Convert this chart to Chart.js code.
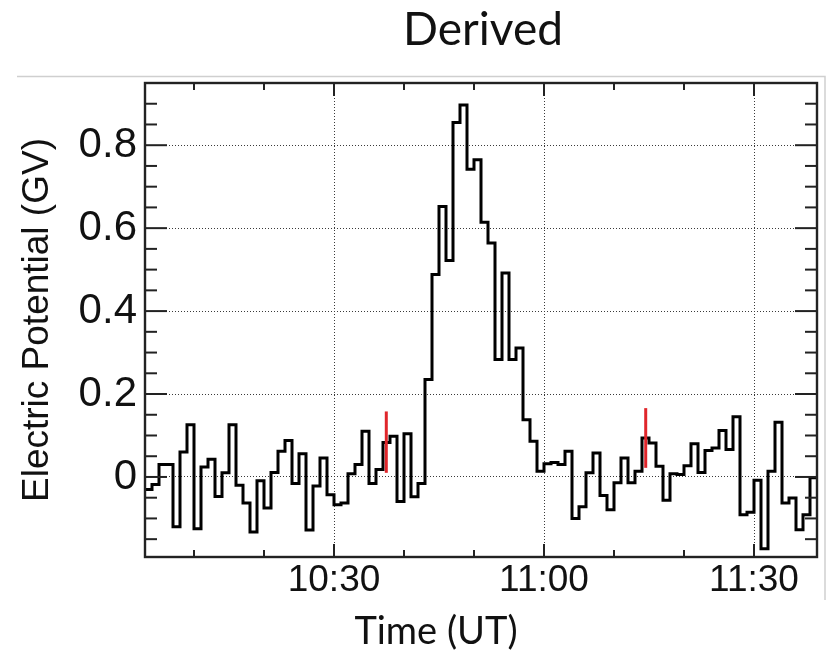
<!DOCTYPE html>
<html>
<head>
<meta charset="utf-8">
<script src="https://cdn.jsdelivr.net/npm/chart.js@4.4.1/dist/chart.umd.min.js"></script>
<style>
html, body { margin: 0; padding: 0; background: #ffffff; }
canvas { display: block; }
</style>
</head>
<body>
<canvas id="chart" width="826" height="651"></canvas>
<script>
// ---------- data ----------
const titleText = 'Derived';
const xTitleText = 'Time (UT)';
const yTitleText = 'Electric Potential (GV)';

// time in minutes after 10:00 UT; one-minute bins starting at 10:03
const binStart = 3;
const binWidth = 1;
const potential = [
  -0.030, -0.018, 0.030, 0.030, -0.120, 0.060, 0.126, -0.125, 0.024, 0.043,
  -0.047, 0.010, 0.126, -0.020, -0.063, -0.133, -0.009, -0.075, 0.011, 0.062,
  0.088, -0.016, 0.056, -0.128, -0.022, 0.046, -0.043, -0.067, -0.063, 0.008,
  0.030, 0.110, -0.016, 0.018, 0.083, 0.098, -0.059, 0.104, -0.048, -0.016,
  0.235, 0.488, 0.652, 0.522, 0.855, 0.897, 0.742, 0.765, 0.614, 0.564,
  0.283, 0.492, 0.283, 0.311, 0.138, 0.086, 0.014, 0.032, 0.035, 0.030,
  0.062, -0.100, -0.072, 0.010, 0.058, -0.045, -0.079, -0.014, 0.046, -0.014,
  0.014, 0.094, 0.082, 0.026, -0.056, 0.008, 0.006, 0.027, 0.080, 0.011,
  0.064, 0.070, 0.112, 0.066, 0.145, -0.091, -0.085, -0.008, -0.173, 0.014,
  0.132, -0.063, -0.051, -0.127, -0.091, -0.002
];

const xTickValues = [30, 60, 90];
const xTickLabels = ['10:30', '11:00', '11:30'];
const xMinorValues = [10, 20, 40, 50, 70, 80];
const yTickValues = [0, 0.2, 0.4, 0.6, 0.8];
const yTickLabels = ['0', '0.2', '0.4', '0.6', '0.8'];
const yMinorValues = [-0.15, -0.1, -0.05, 0.05, 0.1, 0.15, 0.25, 0.3, 0.35,
  0.45, 0.5, 0.55, 0.65, 0.7, 0.75, 0.85, 0.9];

// red marker lines
const markerTimes = [37.47, 74.53];
const markerLow = [0.010, 0.022];
const markerHigh = [0.158, 0.166];

const xMin = 3, xMax = 99;
const yMin = -0.193, yMax = 0.95;

// ---------- build datasets ----------
const histPoints = potential.map((v, i) => ({ x: binStart + i * binWidth, y: v }));
histPoints.push({ x: binStart + potential.length * binWidth, y: potential[potential.length - 1] });

const datasets = [{
  data: histPoints,
  borderColor: '#000000',
  borderWidth: 3,
  stepped: 'before',
  pointRadius: 0,
  fill: false,
  order: 1
}];
markerTimes.forEach((t, i) => {
  datasets.push({
    data: [{ x: t, y: markerLow[i] }, { x: t, y: markerHigh[i] }],
    borderColor: '#e0262b',
    borderWidth: 3,
    pointRadius: 0,
    fill: false,
    order: 0
  });
});

const tickFont = '"Liberation Sans", Arial, Helvetica, sans-serif';

const framePlugin = {
  id: 'frame',
  beforeDraw(chart) {
    const ctx = chart.ctx;
    ctx.save();
    ctx.fillStyle = '#ffffff';
    ctx.fillRect(0, 0, chart.width, chart.height);
    ctx.strokeStyle = '#cfcfcf';
    ctx.lineWidth = 1.5;
    ctx.beginPath();
    ctx.moveTo(17, 76.5);
    ctx.lineTo(825, 76.5);
    ctx.lineTo(825, 600);
    ctx.stroke();
    ctx.restore();
  },
  afterDraw(chart) {
    const ctx = chart.ctx;
    const { left, right, top, bottom } = chart.chartArea;
    const xs = chart.scales.x, ys = chart.scales.y;
    ctx.save();
    ctx.strokeStyle = '#222222';
    ctx.lineWidth = 2;
    const seg = (x1, y1, x2, y2) => { ctx.beginPath(); ctx.moveTo(x1, y1); ctx.lineTo(x2, y2); ctx.stroke(); };
    yTickValues.forEach(v => { const p = ys.getPixelForValue(v); seg(left, p, left + 22, p); seg(right, p, right - 22, p); });
    yMinorValues.forEach(v => { const p = ys.getPixelForValue(v); seg(left, p, left + 12, p); seg(right, p, right - 12, p); });
    xTickValues.forEach(v => { const p = xs.getPixelForValue(v); seg(p, bottom, p, bottom - 13); seg(p, top, p, top + 13); });
    xMinorValues.forEach(v => { const p = xs.getPixelForValue(v); seg(p, bottom, p, bottom - 7); seg(p, top, p, top + 7); });
    ctx.lineWidth = 2.4;
    ctx.strokeRect(left, top, right - left, bottom - top);

    ctx.fillStyle = '#111111';
    ctx.textAlign = 'center';
    ctx.textBaseline = 'alphabetic';
    ctx.font = '46px Lato, "Open Sans", sans-serif';
    ctx.fillText(titleText, (left + right) / 2 + 2, 45);
    ctx.font = '38px Lato, "Open Sans", sans-serif';
    ctx.fillText(xTitleText, 436, 644);
    ctx.restore();
  }
};

new Chart(document.getElementById('chart'), {
  type: 'line',
  data: { datasets },
  options: {
    responsive: false,
    animation: false,
    devicePixelRatio: 1,
    layout: { padding: { left: 0, right: 9, top: 83, bottom: 0 } },
    plugins: { legend: { display: false }, tooltip: { enabled: false }, title: { display: false } },
    elements: { line: { tension: 0 }, point: { radius: 0 } },
    scales: {
      x: {
        type: 'linear',
        min: xMin,
        max: xMax,
        afterBuildTicks: s => { s.ticks = xTickValues.map(v => ({ value: v })); },
        afterFit: s => { s.height = 94; },
        ticks: {
          autoSkip: false,
          maxRotation: 0,
          padding: 2,
          color: '#111111',
          font: { family: tickFont, size: 37 },
          callback: (v, i) => xTickLabels[i]
        },
        grid: { color: '#3a3a3a', lineWidth: 1, drawTicks: false },
        border: { display: false, dash: [1, 2] }
      },
      y: {
        type: 'linear',
        min: yMin,
        max: yMax,
        afterBuildTicks: s => { s.ticks = yTickValues.map(v => ({ value: v })); },
        afterFit: s => { s.width = 145; },
        ticks: {
          autoSkip: false,
          padding: 8,
          color: '#111111',
          font: { family: tickFont, size: 42 },
          callback: (v, i) => yTickLabels[i]
        },
        grid: { color: '#3a3a3a', lineWidth: 1, drawTicks: false },
        border: { display: false, dash: [1, 2] },
        title: {
          display: true,
          text: yTitleText,
          color: '#111111',
          font: { family: tickFont, size: 37, lineHeight: 1.2 },
          padding: { top: 16, bottom: 0 }
        }
      }
    }
  },
  plugins: [framePlugin]
});
</script>
</body>
</html>
